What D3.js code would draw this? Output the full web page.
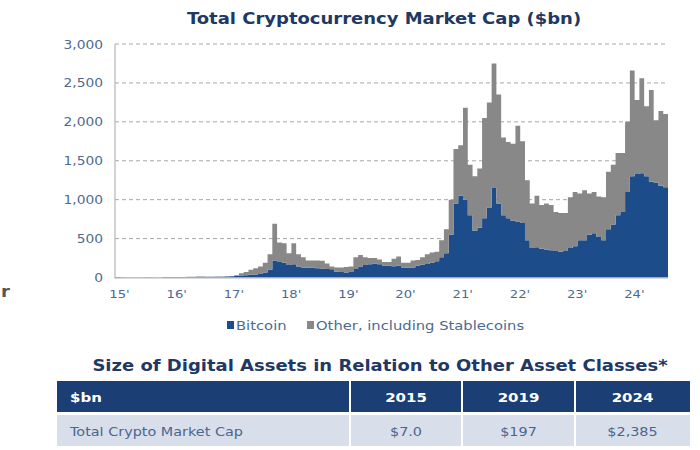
<!DOCTYPE html>
<html><head><meta charset="utf-8">
<script src="https://cdn.jsdelivr.net/npm/d3@7"></script>
<style>body{margin:0;background:#fff;} svg{display:block;}</style>
</head><body>
<svg id="c" width="700" height="450"></svg>
<script>
// ---- data (monthly, $bn) ----
const startYear = 2015;
const btc = [
  5,4,3,3,3,3,4,4,3,3,5,6,
  6,6,6,7,7,10,10,9,9,10,11,14,
  16,18,25,28,35,40,45,65,100,220,200,190,
  160,170,140,130,125,125,120,115,110,105,75,70,
  65,70,110,140,160,170,180,170,150,150,145,150,
  130,125,130,150,165,175,190,210,260,310,550,950,
  1050,1000,800,600,640,760,900,1150,950,800,760,730,
  720,700,480,380,390,370,360,350,340,330,340,380,
  400,480,480,550,570,520,480,620,680,800,840,1100,
  1300,1330,1340,1300,1230,1220,1180,1160
];
const other = [
  1,1,1,1,1,1,1,1,1,1,1,1,
  1,1,2,2,2,2,2,2,2,2,2,2,
  4,12,30,42,65,80,95,125,200,470,250,250,
  150,270,160,130,95,95,100,100,70,35,55,60,
  70,70,150,150,100,80,70,60,50,50,95,120,
  60,65,90,75,95,125,130,120,220,310,450,700,
  650,1180,650,700,760,1290,1350,1600,1400,1000,980,990,
  1230,1050,770,570,660,560,590,580,500,500,490,650,
  700,600,640,530,530,520,550,740,770,800,760,900,
  1360,950,1220,900,1180,800,960,940
];
const yTicks = [0,500,1000,1500,2000,2500,3000];
const xTickYears = [2015,2016,2017,2018,2019,2020,2021,2022,2023,2024];
const xTickLabels = ["15'","16'","17'","18'","19'","20'","21'","22'","23'","24'"];
const seriesNames = ["Bitcoin","Other, including Stablecoins"];
const tableHeader = ["$bn","2015","2019","2024"];
const tableRow = ["Total Crypto Market Cap","$7.0","$197","$2,385"];

// ---- build ----
const SX = 1.2;
const navy = "#1f3864", blue = "#1d4c8a", gray = "#888888", axisText = "#4d6a92";
const svg = d3.select("#c");
const fontR = "'DejaVu Sans', Verdana, sans-serif";

const rows = btc.map((b,i)=>({t: startYear + i/12, btc: b, other: other[i]}));
const last = rows[rows.length-1];
rows.push({t: startYear + btc.length/12, btc: last.btc, other: last.other});

const x = d3.scaleLinear().domain([startYear, startYear + btc.length/12]).range([115, 668]);
const y = d3.scaleLinear().domain([0, 3000]).range([277.5, 44]);

function txt(xp, yp, s, size, fill, weight, anchor) {
  return svg.append("text")
    .attr("transform", `translate(${xp},${yp}) scale(${SX},1)`)
    .attr("font-family", fontR).attr("font-size", size)
    .attr("font-weight", weight || "normal")
    .attr("fill", fill).attr("text-anchor", anchor || "start").text(s);
}

// title
txt(384, 24, "Total Cryptocurrency Market Cap ($bn)", 15, navy, "bold", "middle");

// gridlines
svg.append("g").selectAll("line").data(yTicks.filter(d=>d>0)).join("line")
  .attr("x1", 115).attr("x2", 668).attr("y1", d=>y(d)).attr("y2", d=>y(d))
  .attr("stroke", "#a8a8a8").attr("stroke-width", 1).attr("stroke-dasharray", "4,3");

// stacked areas
const stack = d3.stack().keys(["btc","other"]);
const layers = stack(rows);
const area = d3.area().curve(d3.curveStepAfter)
  .x(d=>x(d.data.t)).y0(d=>y(d[0])).y1(d=>y(d[1]));
svg.append("g").selectAll("path").data(layers).join("path")
  .attr("d", area).attr("fill", (d,i)=> i===0 ? blue : gray);

// axes lines
svg.append("line").attr("x1",115).attr("x2",115).attr("y1",y(3000)).attr("y2",y(0)+1)
  .attr("stroke","#b5b5b5").attr("stroke-width",1.2);
svg.append("line").attr("x1",115).attr("x2",668).attr("y1",y(0)+0.5).attr("y2",y(0)+0.5)
  .attr("stroke","#b5b5b5").attr("stroke-width",1.2);

// y axis labels
const yAxis = svg.append("g").attr("transform","translate(115,0)")
  .call(d3.axisLeft(y).tickValues(yTicks).tickFormat(d3.format(",")).tickSize(0).tickPadding(0));
yAxis.select(".domain").remove();
yAxis.selectAll("text")
  .attr("x", null).attr("dy", null)
  .attr("transform", `translate(-12,4) scale(${SX},1)`)
  .attr("font-family", fontR).attr("font-size", 11.5).attr("fill", axisText);

// x axis labels
const xAxis = svg.append("g").attr("transform", `translate(0,${y(0)})`)
  .call(d3.axisBottom(x).tickValues(xTickYears).tickFormat((d,i)=>xTickLabels[i]).tickSize(0).tickPadding(0));
xAxis.select(".domain").remove();
xAxis.selectAll("text")
  .attr("y", null).attr("dy", null)
  .attr("transform", `translate(4,20) scale(${SX},1)`)
  .attr("font-family", fontR).attr("font-size", 11).attr("fill", axisText);

// legend
const legX = [227, 307];
seriesNames.forEach((n,i)=>{
  svg.append("rect").attr("x", legX[i]).attr("y", 321).attr("width", 7).attr("height", 8)
    .attr("fill", i===0 ? blue : gray);
  txt(legX[i]+9, 330, n, 12.3, axisText);
});

// stray text fragment at left edge
txt(1, 297, "r", 15, "#555555", "bold");

// table title
txt(380, 371, "Size of Digital Assets in Relation to Other Asset Classes*", 15, navy, "bold", "middle");

// table
const colEdges = [57, 350, 462, 575, 690];
const headY = [381, 412], rowY = [415, 446];
for (let c=0; c<4; c++) {
  svg.append("rect").attr("x", colEdges[c] + (c?1:0)).attr("y", headY[0])
    .attr("width", colEdges[c+1]-colEdges[c] - (c?1:0) - (c<3?1:0)).attr("height", headY[1]-headY[0])
    .attr("fill", "#1b3f74");
  svg.append("rect").attr("x", colEdges[c] + (c?1:0)).attr("y", rowY[0])
    .attr("width", colEdges[c+1]-colEdges[c] - (c?1:0) - (c<3?1:0)).attr("height", rowY[1]-rowY[0])
    .attr("fill", "#d9dfea");
  const cx = c===0 ? 70 : (colEdges[c]+colEdges[c+1])/2;
  const anchor = c===0 ? "start" : "middle";
  txt(cx, 402, tableHeader[c], 12.5, "#ffffff", "bold", anchor);
  txt(cx, 436, tableRow[c], 12, "#4a6690", "normal", anchor);
}
</script>
</body></html>
